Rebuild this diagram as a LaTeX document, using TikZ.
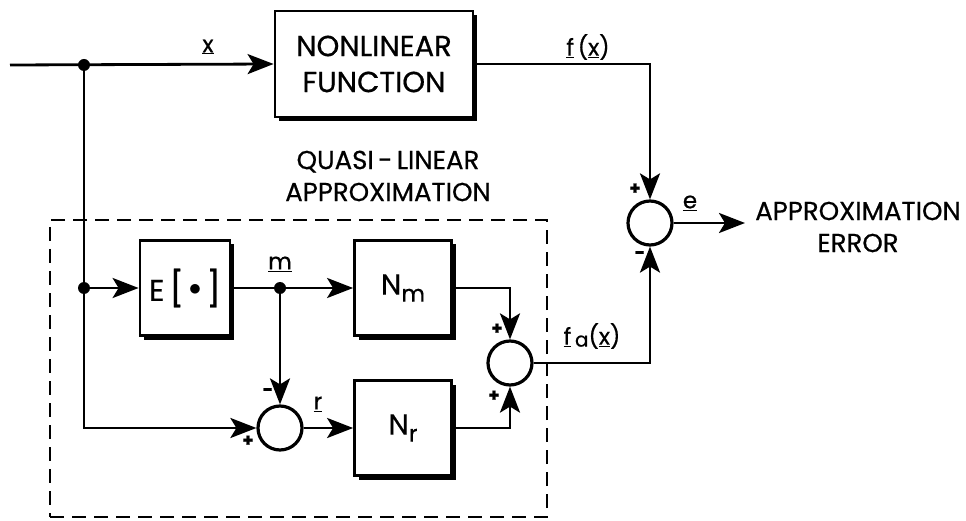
\documentclass[tikz,border=0pt]{standalone}
\usepackage{fontspec}
\setmainfont{Poppins}[FakeBold=0.6]
\usetikzlibrary{arrows.meta,shadows}
\begin{document}
\begin{tikzpicture}[x=1pt,y=-1pt,
  line width=2.8pt,
  >={Stealth[length=26pt,width=20pt,inset=6pt]},
  blk/.style={draw, fill=white, line width=2.8pt, inner sep=0pt,
    drop shadow={shadow xshift=4pt,shadow yshift=-4pt,fill=black,opacity=1}},
  sumj/.style={draw, circle, minimum size=44pt, inner sep=0pt, line width=3.2pt},
  dot/.style={circle, fill=black, minimum size=12pt, inner sep=0pt},
  lbl/.style={font=\fontsize{23}{24}\selectfont, inner sep=0pt},
  txt/.style={font=\fontsize{26}{32}\selectfont, align=center, inner sep=0pt},
  sgn/.style={font=\fontsize{18}{18}\selectfont\bfseries, inner sep=0pt},
  dbox/.style={draw, line width=2.6pt, dash pattern=on 14pt off 8pt},
]
\useasboundingbox (0,0) rectangle (966,521);

% dashed region
\node[dbox, minimum width=497pt, minimum height=297pt, inner sep=0pt] (qbox) at (298.5,368.5) {};

% blocks
\node[blk, minimum width=198pt, minimum height=106pt, align=center,
      font=\fontsize{29}{36}\selectfont] (nl) at (374,64) {NONLINEAR\\FUNCTION};
\node[blk, minimum width=90pt, minimum height=95pt, font=\fontsize{30}{30}\selectfont] (E) at (185,288)
  {E\,\scalebox{1.15}{[}\,\raisebox{0.3ex}{$\bullet$}\,\scalebox{1.15}{]}};
\node[blk, minimum width=97pt, minimum height=95pt, font=\fontsize{29}{29}\selectfont] (Nm) at (403,288)
  {N\raisebox{-7pt}{\fontsize{23}{23}\selectfont m}};
\node[blk, minimum width=97pt, minimum height=95pt, font=\fontsize{29}{29}\selectfont] (Nr) at (403,428)
  {N\raisebox{-7pt}{\fontsize{23}{23}\selectfont r}};

% summing junctions
\node[sumj] (c1) at (650,223) {};
\node[sumj] (c2) at (510,363) {};
\node[sumj] (c3) at (280,428) {};

% points
\coordinate (in) at (10,65);
\node[dot] (j1) at (84,65) {};
\node[dot] (j2) at (84,288) {};
\node[dot] (mj) at (280,288) {};
\coordinate (out) at (745,223);

% connectors
\draw[->] (in) -- (nl.west);
\draw[->] (j1.center) |- (c3.west);
\draw[->] (j2.center) -- (E.west);
\draw[->] (E.east) -- (Nm.west);
\draw[->] (mj.center) -- (c3.north);
\draw[->] (c3.east) -- (Nr.west);
\draw[->] (Nm.east) -| (c2.north);
\draw[->] (Nr.east) -| (c2.south);
\draw[->] (c2.east) -| (c1.south);
\draw[->] (nl.east) -| (c1.north);
\draw[->] (c1.east) -- (out);

% labels
\node[lbl] (lx) at (208,47) {\underline{x}};
\node[lbl] (lf) at (588,47) {\underline{f}\,(\underline{x})};
\node[lbl] (le) at (690,203) {\underline{e}};
\node[lbl] (lm) at (280,264) {\underline{m}};
\node[lbl] (lr) at (318,404) {\underline{r}};
\node[lbl] (lfa) at (592,336) {\underline{f}\,\raisebox{-2pt}{\fontsize{20}{20}\selectfont a}(\underline{x})};
\node[txt] (lerr) at (858,227) {APPROXIMATION\\ERROR};
\node[txt] (lq) at (388,176) {QUASI\,-\,LINEAR\\APPROXIMATION};

% signs
\node[sgn] (s1) at (635,189) {+};
\node[sgn] (s2) at (640,255) {-};
\node[sgn] (s3) at (497,329) {+};
\node[sgn] (s4) at (494,396) {+};
\node[sgn] (s5) at (268,392) {-};
\node[sgn] (s6) at (248,441) {+};
\end{tikzpicture}
\end{document}
